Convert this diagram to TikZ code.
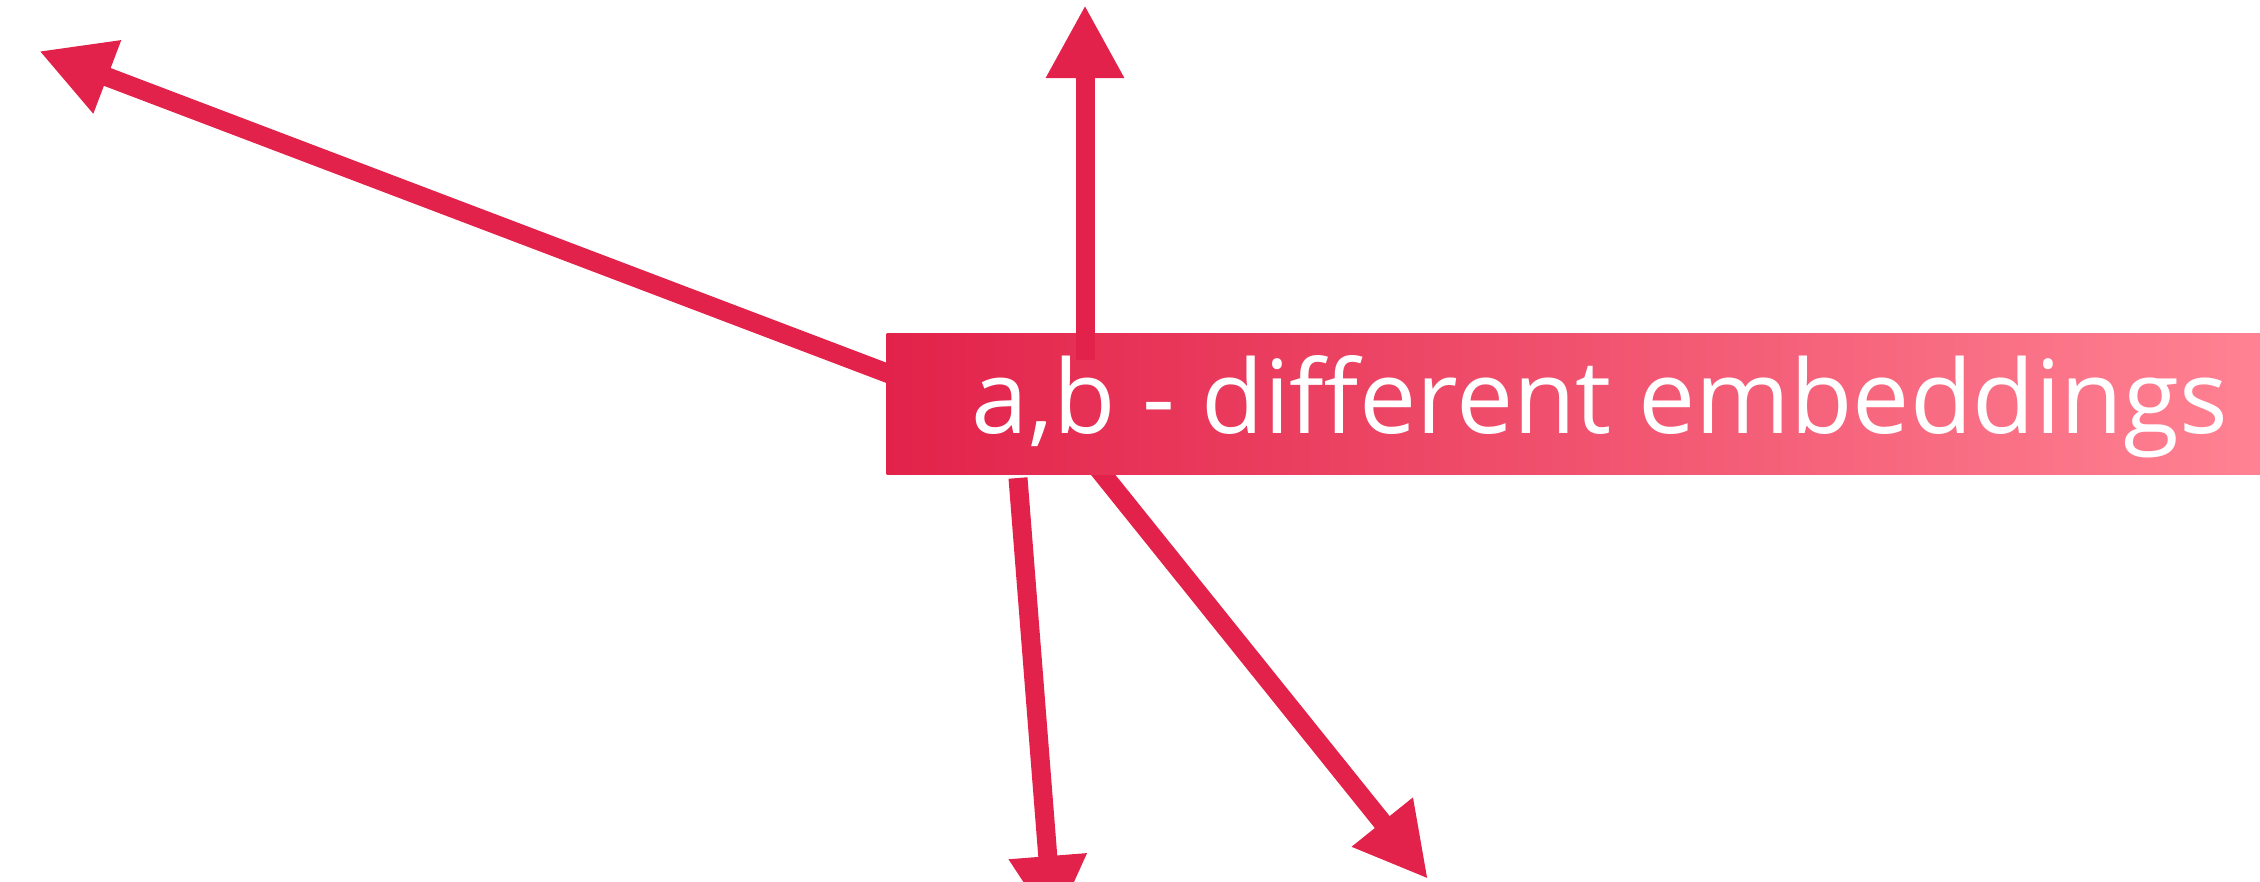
\documentclass[tikz,border=0pt]{standalone}
\usepackage{fontspec}
\newfontfamily\lblfont{Open Sans}
\usetikzlibrary{arrows.meta}
\definecolor{arrowred}{RGB}{226,34,74}
\definecolor{gradleft}{RGB}{226,34,74}
\definecolor{gradright}{RGB}{255,130,147}
\tikzset{
  arrowline/.style={draw=arrowred, line width=0.19cm, line cap=butt,
    -{Triangle[length=0.73cm, width=0.73cm]}},
  labelbox/.style={rectangle, inner sep=0pt, draw=none,
    left color=gradleft, right color=gradright,
    minimum width=13.74cm, minimum height=1.41cm},
  labeltext/.style={inner sep=0pt, text=white,
    font=\lblfont\fontsize{29pt}{35pt}\selectfont}
}
\begin{document}
\begin{tikzpicture}[x=0.01cm, y=-0.01cm]
\useasboundingbox (0,0) rectangle (2260,882);
% free ends
\coordinate (sL) at (950,397);
\coordinate (tL) at (39,51);
\coordinate (sLR) at (1043,400);
\coordinate (tLR) at (1428,879);
\coordinate (sLL) at (1018,478);
\coordinate (tLL) at (1053.5,929);
\coordinate (sU) at (1085,360);
\coordinate (tU) at (1085,5);
% arrows behind the box
\draw[arrowline] (sL) -- (tL);
\draw[arrowline] (sLR) -- (tLR);
% box
\node[labelbox, anchor=north west] (box) at (886,333) {};
\node[labeltext, anchor=base west] (lbl) at (971,433) {a,b - different embeddings};
% arrows in front
\draw[arrowline] (sLL) -- (tLL);
\draw[arrowline] (sU) -- (tU);
\end{tikzpicture}
\end{document}
